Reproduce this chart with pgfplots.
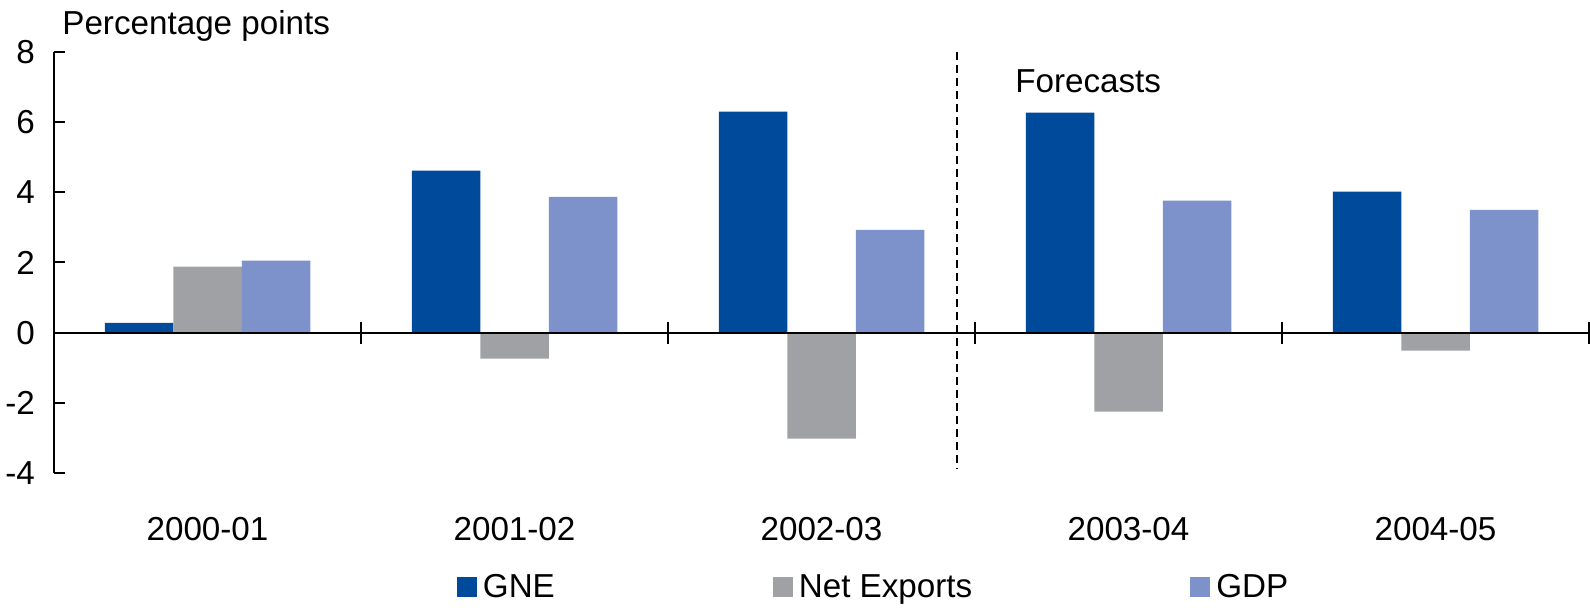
\documentclass[border=0pt]{standalone}
\usepackage{pgfplots}
\pgfplotsset{compat=1.18}
\usepackage{fontspec}
\setmainfont{Liberation Sans}
\definecolor{gne}{RGB}{0,74,155}
\definecolor{nx}{RGB}{160,161,164}
\definecolor{gdp}{RGB}{125,145,203}
\pgfplotsset{sqlegend/.style={legend image code/.code={\fill[##1] (0pt,-5pt) rectangle (10pt,5pt);}}}
\begin{document}
\begin{tikzpicture}
\begin{axis}[
  name=ax,
  scale only axis,
  width=767.5pt, height=210.5pt,
  xmin=-0.5, xmax=4.5, ymin=-4, ymax=8,
  clip=false,
  axis y line*=left, axis x line*=bottom,
  x axis line style={draw=none},
  y axis line style={line width=1pt, -},
  ytick={-4,-2,0,2,4,6,8},
  yticklabels={-4,-2,0,2,4,6,8},
  tick align=inside,
  major tick length=5.5pt,
  ytick style={line width=1pt, black},
  xtick={0,1,2,3,4},
  xticklabels={2000-01,2001-02,2002-03,2003-04,2004-05},
  xtick style={draw=none},
  tick label style={font=\fontsize{16.6}{19}\selectfont, black},
  yticklabel style={xshift=-6pt},
  xticklabel style={yshift=-13pt},
  ybar=0pt, bar width=34.25pt,
  legend columns=3,
  legend style={at={(axis description cs:0.2625,-0.271)}, anchor=west, draw=none, fill=none,
    inner sep=0pt, outer sep=0pt, font=\fontsize{16.6}{19}\selectfont,
    /tikz/every even column/.append style={column sep=107pt}},
]
\addplot[fill=gne, draw=none, sqlegend] coordinates {(0,0.28) (1,4.62) (2,6.30) (3,6.27) (4,4.02)};
\addlegendentry{\hspace{1pt}GNE}
\addplot[fill=nx, draw=none, sqlegend] coordinates {(0,1.88) (1,-0.74) (2,-3.02) (3,-2.25) (4,-0.51)};
\addlegendentry{\hspace{1pt}Net Exports}
\addplot[fill=gdp, draw=none, sqlegend] coordinates {(0,2.05) (1,3.87) (2,2.93) (3,3.76) (4,3.50)};
\addlegendentry{\hspace{1pt}GDP}
\draw[line width=1pt] (axis cs:-0.5,0) -- (axis cs:4.5,0);
\pgfplotsinvokeforeach{0.5,1.5,2.5,3.5,4.5}{
  \draw[line width=1pt] ([yshift=-5.5pt]axis cs:#1,0) -- ([yshift=5.5pt]axis cs:#1,0);
}
\draw[dash pattern=on 4pt off 2.5pt, line width=1pt] (axis cs:2.441,8) -- (axis cs:2.441,-3.87);
\node[anchor=base west, inner sep=0pt, font=\fontsize{16.6}{19}\selectfont] at (axis cs:2.63,6.84) {Forecasts};
\node[anchor=base west, inner sep=0pt, font=\fontsize{16.6}{19}\selectfont] at (axis cs:-0.474,8.49) {Percentage points};
\end{axis}
\pgfresetboundingbox
\useasboundingbox (ax.south west) ++(-27pt,-67.5pt) rectangle ([xshift=0.5pt,yshift=26pt]ax.north east);
\end{tikzpicture}
\end{document}
